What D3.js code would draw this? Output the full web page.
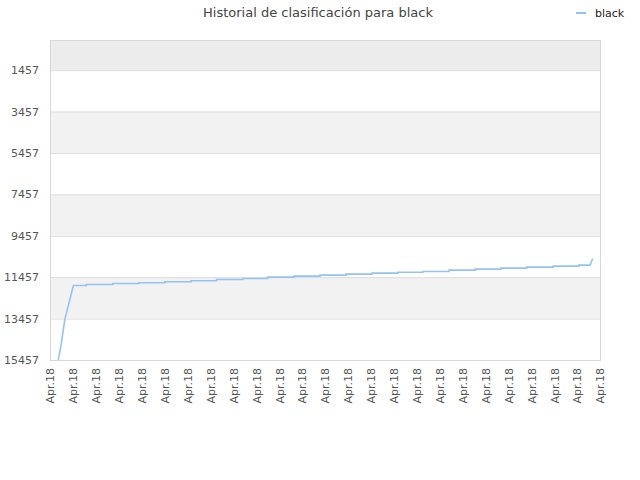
<!DOCTYPE html>
<html>
<head>
<meta charset="utf-8">
<script src="https://cdn.jsdelivr.net/npm/d3@7"></script>
<style>
  body { margin: 0; background: #fff; }
  text { font-family: "DejaVu Sans", sans-serif; }
</style>
</head>
<body>
<div id="container"></div>
<script>
// hours since the first tick (all ticks read "Apr.18"), and rank at that moment
const hours = [0.36, 0.47, 0.65, 1.02, 1.59, 1.59, 2.74, 2.74, 3.88, 3.88, 5.01, 5.01, 6.16, 6.16,
  7.27, 7.27, 8.41, 8.41, 9.50, 9.50, 10.65, 10.65, 11.78, 11.78, 12.92, 12.92, 14.05, 14.05,
  15.18, 15.18, 16.27, 16.27, 17.41, 17.41, 18.55, 18.55, 19.68, 19.68, 20.81, 20.81,
  21.95, 21.95, 23.08, 23.08, 23.56, 23.60, 23.68];
const ranks = [15457, 14820, 13482, 11859, 11859, 11810, 11810, 11762, 11762, 11728, 11728, 11680, 11680, 11632,
  11632, 11569, 11569, 11521, 11521, 11453, 11453, 11405, 11405, 11357, 11357, 11308, 11308, 11260,
  11260, 11217, 11217, 11183, 11183, 11115, 11115, 11067, 11067, 11019, 11019, 10970,
  10970, 10922, 10922, 10874, 10874, 10780, 10555];
const tickHours = d3.range(0, 25);
const tickLabel = "Apr.18";
const yTicks = [1457, 3457, 5457, 7457, 9457, 11457, 13457, 15457];
const seriesName = "black";

const width = 640, height = 480;
const margin = {top: 40, right: 40, bottom: 120, left: 50};

const svg = d3.select("#container").append("svg")
  .attr("width", width)
  .attr("height", height);

const x = d3.scaleLinear().domain([0, 24]).range([margin.left, width - margin.right]);
const y = d3.scaleLinear().domain([0, 15457]).range([margin.top, height - margin.bottom]);

// alternating bands between the y ticks
const bandEdges = [0].concat(yTicks);
svg.append("g").selectAll("rect")
  .data(d3.pairs(bandEdges))
  .enter().append("rect")
  .attr("x", x(0))
  .attr("width", x(24) - x(0))
  .attr("y", d => y(d[0]))
  .attr("height", d => y(d[1]) - y(d[0]))
  .attr("fill", (d, i) => i === 0 ? "#ececec" : (i % 2 === 0 ? "#f2f2f2" : "#ffffff"));

// grid lines
svg.append("g").selectAll("line")
  .data(yTicks)
  .enter().append("line")
  .attr("x1", x(0)).attr("x2", x(24))
  .attr("y1", d => y(d) + 0.5).attr("y2", d => y(d) + 0.5)
  .attr("stroke", "#dddddd");

// plot frame
svg.append("rect")
  .attr("x", x(0) + 0.5).attr("y", y(0) + 0.5)
  .attr("width", x(24) - x(0)).attr("height", y(15457) - y(0))
  .attr("fill", "none")
  .attr("stroke", "#d8d8d8");

const yAxis = svg.append("g")
  .attr("transform", `translate(${x(0) - 11},0)`)
  .call(d3.axisLeft(y).tickValues(yTicks).tickFormat(d3.format("d")).tickSize(0).tickPadding(0));
yAxis.select(".domain").remove();
yAxis.selectAll("text")
  .attr("fill", "#555")
  .style("font-size", "11px");

const xAxis = svg.append("g")
  .attr("transform", `translate(0,${y(15457)})`)
  .call(d3.axisBottom(x).tickValues(tickHours).tickFormat(() => tickLabel).tickSize(0));
xAxis.select(".domain").remove();
xAxis.selectAll("text")
  .attr("fill", "#555")
  .style("font-size", "11px")
  .style("text-anchor", "end")
  .attr("transform", "rotate(-90)")
  .attr("x", -8)
  .attr("y", 0)
  .attr("dy", "0.35em");

const line = d3.line()
  .x((d, i) => x(hours[i]))
  .y(d => y(d));

svg.append("path")
  .datum(ranks)
  .attr("fill", "none")
  .attr("stroke", "#94c3f2")
  .attr("stroke-width", 1.6)
  .attr("d", line);

svg.append("text")
  .attr("x", 318)
  .attr("y", 17)
  .attr("text-anchor", "middle")
  .attr("fill", "#444")
  .style("font-size", "13px")
  .text("Historial de clasificación para " + seriesName);

const legend = svg.append("g").attr("transform", "translate(576,13)");
legend.append("line")
  .attr("x1", 0).attr("x2", 10)
  .attr("stroke", "#94c3f2").attr("stroke-width", 2);
legend.append("text")
  .attr("x", 19).attr("dy", "0.35em")
  .attr("fill", "#222")
  .style("font-size", "11px")
  .text(seriesName);
</script>
</body>
</html>
